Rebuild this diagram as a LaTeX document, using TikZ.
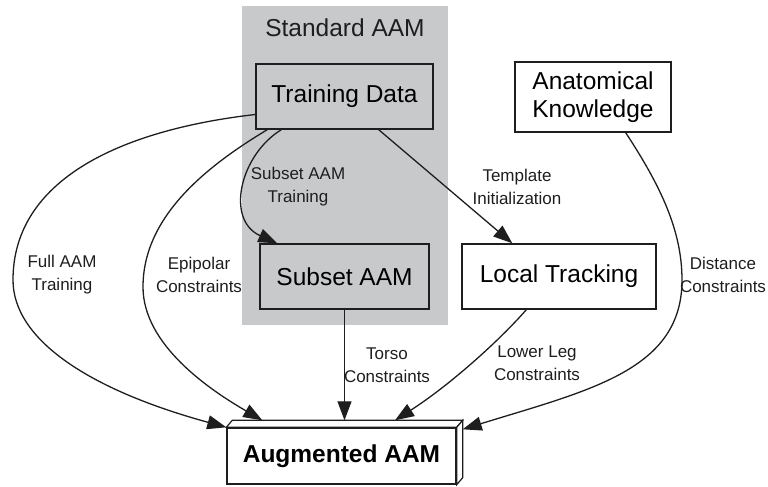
\documentclass[tikz,border=0pt]{standalone}
\usepackage{fontspec}
\setmainfont{Liberation Sans}
\usetikzlibrary{arrows.meta,calc}
\definecolor{clustergray}{RGB}{200,201,203}
\definecolor{ink}{RGB}{30,30,30}
\tikzset{
  boxnode/.style={draw=ink, line width=1.4pt, inner sep=0pt, align=center,
    font=\fontsize{24.5}{28}\selectfont},
  graynode/.style={boxnode, fill=clustergray},
  edge/.style={draw=ink, line width=1.3pt, -{Triangle[length=19pt,width=14pt]}},
  elabel/.style={align=center, font=\fontsize{17}{23}\selectfont, text=ink}
}
\begin{document}
\begin{tikzpicture}[x=1pt,y=-1pt]
\useasboundingbox (0,0) rectangle (768,487);
% cluster
\fill[clustergray] (242,6) rectangle (448,325);
\node[font=\fontsize{24.5}{28}\selectfont, text=ink] (title) at (345,28) {Standard AAM};
% nodes
\node[graynode, minimum width=177pt, minimum height=65pt] (td) at (344.5,96.5) {Training Data};
\node[graynode, minimum width=169pt, minimum height=65pt] (sa) at (344.5,276.5) {Subset AAM};
\node[boxnode, minimum width=194pt, minimum height=65pt] (lt) at (559,276.5) {Local Tracking};
\node[boxnode, minimum width=156pt, minimum height=70pt] (an) at (593,97) {Anatomical\\Knowledge};
% 3D box
\node[boxnode, fill=white, minimum width=229pt, minimum height=56pt,
      font=\fontsize{24.5}{28}\selectfont\bfseries] (aug) at (341.5,456) {Augmented AAM};
\draw[ink, line width=1.2pt, fill=white, line join=miter]
  (aug.north west) -- ([xshift=6pt,yshift=7pt]aug.north west)
  -- ([xshift=6pt,yshift=7pt]aug.north east) -- (aug.north east) -- cycle;
\draw[ink, line width=1.2pt, fill=white, line join=miter]
  (aug.north east) -- ([xshift=6pt,yshift=7pt]aug.north east)
  -- ([xshift=6pt,yshift=7pt]aug.south east) -- (aug.south east) -- cycle;
\draw[ink, line width=1.4pt] (aug.north west) rectangle (aug.south east);
% edges
\draw[edge] ([yshift=-18pt]td.west) .. controls (120,130) and (13,180) .. (13,280)
  .. controls (13,340) and (90,390) .. (aug.north west);
\draw[edge] ([xshift=12pt]td.south west) .. controls (200,170) and (143,220) .. (143,287)
  .. controls (143,345) and (210,390) .. ([xshift=36pt,yshift=7pt]aug.north west);
\draw[edge] ([xshift=26pt]td.south west) .. controls (240,155) and (225,220) .. ([xshift=18pt]sa.north west);
\draw[edge] ([xshift=-55pt]td.south east) -- ([xshift=51pt]lt.north west);
\draw[edge] (sa.south) -- ([xshift=3pt,yshift=7pt]aug.north);
\draw[edge] ([xshift=65pt]lt.south west) .. controls (500,340) and (450,385) .. ([xshift=53.5pt,yshift=7pt]aug.north);
\draw[edge] ([xshift=-46pt]an.south east) .. controls (660,185) and (682,230) .. (682,280)
  .. controls (682,370) and (590,390) .. ([xshift=6pt,yshift=-2pt]aug.north east);
% labels
\node[elabel] (l1) at (62,275) {Full AAM\\Training};
\node[elabel] (l2) at (199,275) {Epipolar\\Constraints};
\node[elabel] (l3) at (298,187) {Subset AAM\\Training};
\node[elabel] (l4) at (517,187) {Template\\Initialization};
\node[elabel] (l5) at (387,365) {Torso\\Constraints};
\node[elabel] (l6) at (537,363) {Lower Leg\\Constraints};
\node[elabel] (l7) at (723,275) {Distance\\Constraints};
\end{tikzpicture}
\end{document}
